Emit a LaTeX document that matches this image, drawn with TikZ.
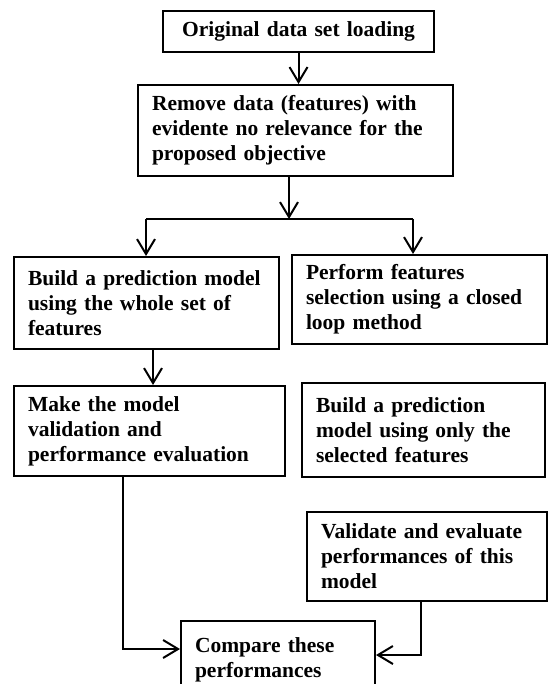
\documentclass[tikz,border=0pt]{standalone}
\usepackage{fontspec}
\setmainfont{Liberation Serif}
\usetikzlibrary{arrows.meta}

\begin{document}
\begin{tikzpicture}[x=1pt,y=-1pt,
    box/.style={draw,line width=2pt,inner xsep=14pt,inner ysep=0pt,align=left,
      font=\bfseries\fontsize{21.5}{25}\selectfont},
    arr/.style={line width=2pt,-{Straight Barb[length=15pt,width=18pt]}}]
  \clip (0,0) rectangle (548,684);
  \fill[white] (0,0) rectangle (548,684);
  % top of the chart
  \node[box,text width=243pt,minimum height=41pt,align=center] (load) at (298.5,31.5) {Original data set loading};
  \node[box,text width=287pt,minimum height=91pt] (filter) at (295.5,130.5) {Remove data (features) with\\evidente no relevance for the\\proposed objective};
  % left branch
  \node[box,text width=237pt,minimum height=92pt] (whole) at (146.5,303) {Build a prediction model\\using the whole set of\\features};
  \node[box,text width=243pt,minimum height=90pt] (valid) at (149.5,431) {Make the model\\validation and\\performance evaluation};
  % right branch
  \node[box,text width=227pt,minimum height=89pt] (select) at (419.5,299.5) {Perform features\\selection using a closed\\loop method};
  \node[box,text width=215pt,minimum height=94pt] (build) at (423.5,430) {Build a prediction\\model using only the\\selected features};
  \node[box,text width=212pt,minimum height=89pt] (evalsel) at (427,556.5) {Validate and evaluate\\performances of this\\model};
  \node[box,text width=166pt,minimum height=78pt] (compare) at (278,660) {Compare these\\performances};

  \draw[arr] (load.south) -- (load.south |- filter.north);
  \coordinate (split) at (289,219);
  \coordinate (jl) at (146,219);
  \coordinate (jr) at (413,219);
  \draw[arr] (split |- filter.south) -- (split);
  \draw[line width=2pt] (jl) -- (jr);
  \draw[arr] (jl) -- (jl |- whole.north);
  \draw[arr] (jr) -- (jr |- select.north);
  \coordinate (w2v) at (153,349);
  \draw[arr] (w2v |- whole.south) -- (w2v |- valid.north);
  % both results go to the comparison
  \coordinate (lcorner) at (123,649);
  \coordinate (rcorner) at (421,655);
  \draw[arr] (lcorner |- valid.south) -- (lcorner) -- (lcorner -| compare.west);
  \draw[arr] (rcorner |- evalsel.south) -- (rcorner) -- (rcorner -| compare.east);
\end{tikzpicture}
\end{document}
